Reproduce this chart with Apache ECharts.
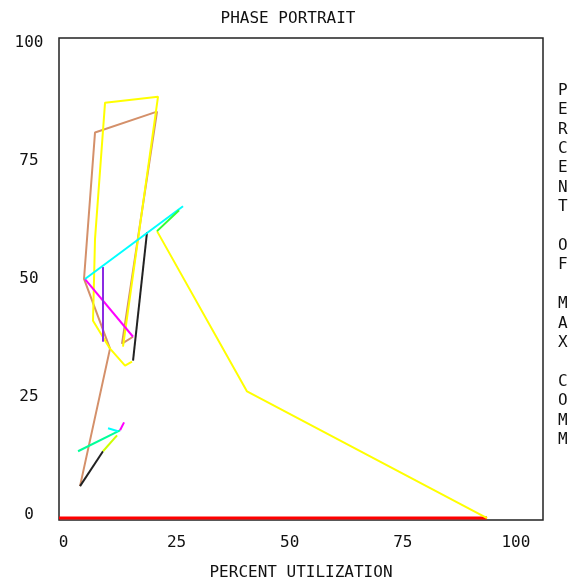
<!DOCTYPE html>
<html>
<head>
<meta charset="utf-8">
<script src="https://cdn.jsdelivr.net/npm/echarts@6/dist/echarts.min.js"></script>
<style>html,body{margin:0;padding:0;background:#fff}#c{width:576px;height:586px}</style>
</head>
<body>
<div id="c"></div>
<script>
var xTicks = [0, 25, 50, 75, 100];
var yTicks = [0, 25, 50, 75, 100];
var tanPath = [[3.65,6.17],[10.28,35.26],[4.53,50.01],[6.96,80.99],[20.67,85.41],[12.93,36.31],[15.37,37.78]];
var yellowLoop = [[13.15,35.68],[20.89,88.58],[9.18,87.31],[6.96,58.43],[6.52,41.15],[10.28,35.26],[13.60,31.67],[15.14,32.52]];
var yellowTail = [[20.67,60.13],[40.57,26.2],[93.63,-0.6]];
var blackUp = [[15.37,32.73],[18.46,59.92]];
var blackLow = [[3.65,6.17],[8.73,13.55]];
var cyanLong = [[4.75,49.99],[26.42,65.4]];
var cyanShort = [[9.84,18.4],[12.05,17.77]];
var greenShort = [[20.67,60.13],[25.54,64.55]];
var springLow = [[3.21,13.55],[12.49,17.98]];
var yellowGreenLow = [[8.73,13.55],[11.83,16.92]];
var magentaLong = [[4.75,49.99],[15.37,37.78]];
var magentaShort = [[12.49,17.98],[13.38,19.66]];
var purpleLine = [[8.73,52.53],[8.73,36.73]];
var redBase = [[-1,-0.6],[93.63,-0.6]];

var FONT = 'DejaVu Sans Mono';
function ln(data, color, w) {
  return {type:'line', data:data, symbol:'none', lineStyle:{color:color, width:w||2}, itemStyle:{color:color}, animation:false, z:2};
}
var chart = echarts.init(document.getElementById('c'), null, {renderer:'canvas'});
chart.setOption({
  backgroundColor:'#ffffff',
  animation:false,
  title:{text:'PHASE PORTRAIT', left:'center', top:6, textStyle:{fontFamily:FONT, fontSize:16, fontWeight:'normal', color:'#111'}},
  grid:{left:59, right:33, top:38, bottom:64, show:true, borderColor:'#222', borderWidth:1.5, backgroundColor:'transparent'},
  xAxis:{type:'value', min:-1, max:106,
    axisLine:{show:false}, axisTick:{show:false}, splitLine:{show:false},
    axisLabel:{customValues:xTicks, fontFamily:FONT, fontSize:16, color:'#111', margin:15},
    name:'PERCENT UTILIZATION', nameLocation:'middle', nameGap:45,
    nameTextStyle:{fontFamily:FONT, fontSize:16, color:'#111'}},
  yAxis:{type:'value', min:-1, max:101,
    axisLine:{show:false}, axisTick:{show:false}, splitLine:{show:false},
    axisLabel:{customValues:yTicks, fontFamily:FONT, fontSize:16, color:'#111', margin:30, align:'center'}},
  graphic:[{type:'text', left:558, top:81, style:{text:'PERCENT OF MAX COMM'.split('').join('\n'), font:'16px "DejaVu Sans Mono"', fill:'#111', lineHeight:19.4, align:'center'}}],
  series:[
    ln(redBase,'#ff0000',3),
    ln(yellowTail,'#ffff00'),
    ln(tanPath,'#d4906a'),
    ln(yellowLoop,'#ffff00'),
    ln(blackUp,'#222222'),
    ln(blackLow,'#222222'),
    ln(magentaLong,'#ff00ff'),
    ln(purpleLine,'#8a2be2'),
    ln(cyanLong,'#00ffff'),
    ln(greenShort,'#33ff33'),
    ln(springLow,'#00ff99'),
    ln(cyanShort,'#00ffff'),
    ln(yellowGreenLow,'#ccff00'),
    ln(magentaShort,'#ff00ff')
  ]
});
</script>
</body>
</html>
